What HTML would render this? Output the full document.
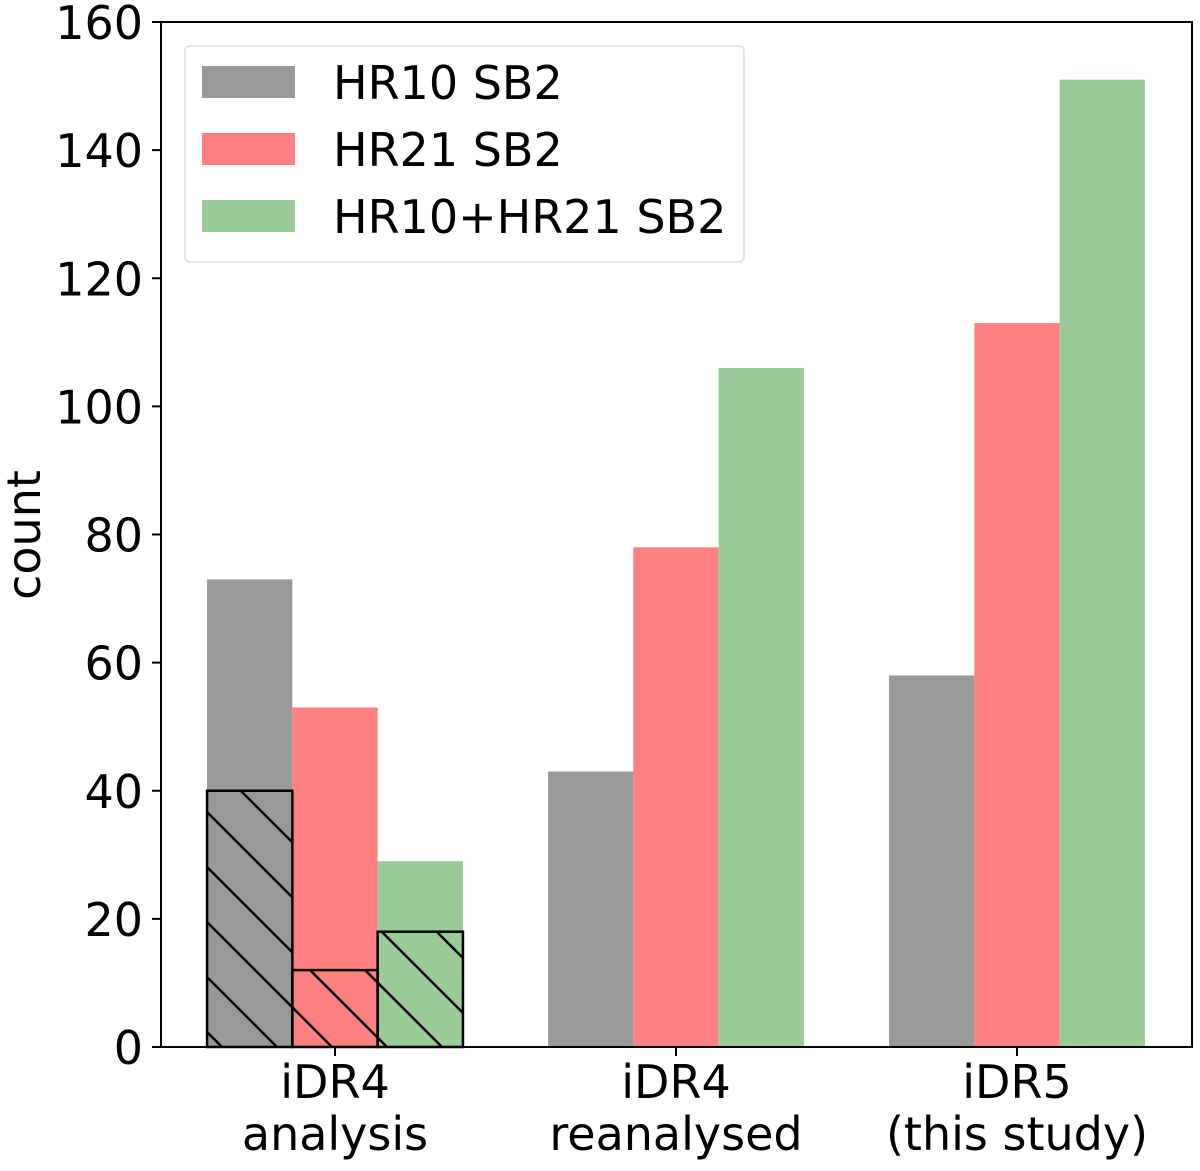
<!DOCTYPE html>
<html><head><meta charset="utf-8"><style>
body{margin:0;background:#fff}
svg text{font-family:"DejaVu Sans","Liberation Sans",sans-serif;fill:#000}
</style></head><body>
<svg id="chart" width="1200" height="1166" viewBox="0 0 1200 1166" xmlns="http://www.w3.org/2000/svg">
<defs>
<pattern id="hatch" patternUnits="userSpaceOnUse" width="55" height="55" x="0" y="0">
<path d="M-5,-5 L60,60 M-60,-5 L5,60 M50,-5 L115,60" stroke="#000" stroke-width="2.5"/>
</pattern>
</defs>
<g id="plot"></g>
</svg>
<script>
const categories=[["iDR4","analysis"],["iDR4","reanalysed"],["iDR5","(this study)"]];
const seriesNames=["HR10 SB2","HR21 SB2","HR10+HR21 SB2"];
const hr10=[73,43,58];
const hr21=[53,78,113];
const both=[29,106,151];
const hatched=[[40,12,18],null,null];
const yTicks=[0,20,40,60,80,100,120,140,160];
const colors=["#999999","#ff8080","#99cc99"];
const L=161,R=1192,T=22,B=1047,ymax=160;
const y=v=>B-(B-T)*v/ymax;
const centers=[335,676,1017],bw=85.3;
const x=(i,s)=>centers[i]+(s-1.5)*bw;
const ns="http://www.w3.org/2000/svg";
const g=document.getElementById('plot');
function mk(t,a){const e=document.createElementNS(ns,t);for(const k in a)e.setAttribute(k,a[k]);g.appendChild(e);return e;}
const series=[hr10,hr21,both];
series.forEach((arr,s)=>arr.forEach((v,i)=>{
 const r=mk('rect',{x:x(i,s),y:y(v),width:bw,height:B-y(v),fill:colors[s]});
 
 
}));
hatched.forEach((h,i)=>{if(!h)return;h.forEach((v,s)=>{
 const r=mk('rect',{x:x(i,s),y:y(v),width:bw,height:B-y(v),fill:'url(#hatch)',stroke:'#000','stroke-width':2.5});
 
 
});});
const ax=mk('rect',{x:L,y:T,width:R-L,height:B-T,fill:'none',stroke:'#000','stroke-width':2});


yTicks.forEach(t=>{
 mk('line',{x1:L-9,x2:L,y1:y(t),y2:y(t),stroke:'#000','stroke-width':2});
 const tx=mk('text',{x:L-18,y:y(t)+17,'text-anchor':'end','font-size':46});
 tx.textContent=t;
 
 
});
categories.forEach((c,i)=>{
 mk('line',{x1:centers[i],x2:centers[i],y1:B,y2:B+9,stroke:'#000','stroke-width':2});
 c.forEach((ln,j)=>{
  const tx=mk('text',{x:centers[i],y:1098+j*52,'text-anchor':'middle','font-size':46});
  tx.textContent=ln;
  
  
 });
});
const yt=mk('text',{x:0,y:0,'text-anchor':'middle','font-size':46,transform:'translate(40,535) rotate(-90)'});
yt.textContent='count';


const lb=mk('rect',{x:185,y:46,width:559,height:216,rx:5,fill:'#fff','fill-opacity':0.8,stroke:'#ddd','stroke-width':1.5});


seriesNames.forEach((n,s)=>{
 const cy=82+s*67;
 const p=mk('rect',{x:202,y:cy-16,width:93,height:32,fill:colors[s]});
 
 
 const tx=mk('text',{x:333,y:cy+17,'font-size':46});
 tx.textContent=n;
 
 
});
</script>
</body></html>
